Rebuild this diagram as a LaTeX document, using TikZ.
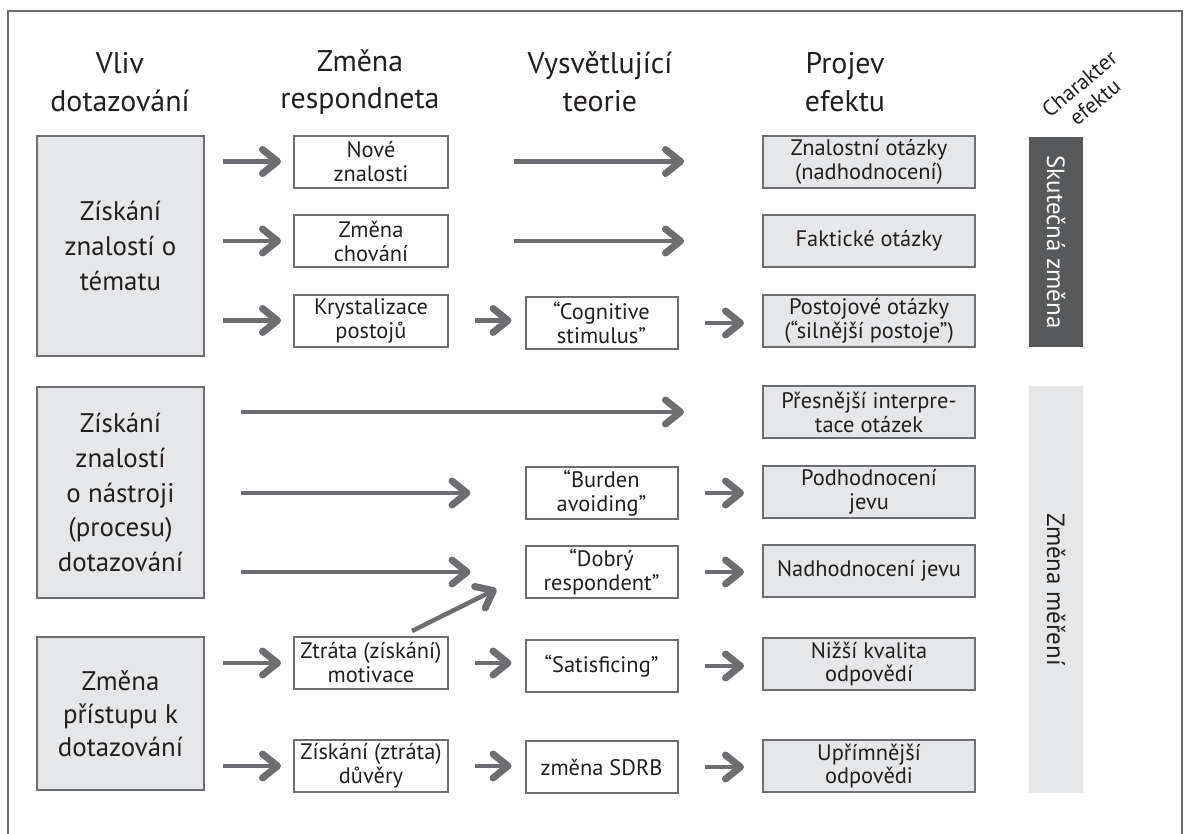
\documentclass[tikz,border=0pt]{standalone}
\usepackage{fontspec}
\setmainfont{PT Sans}
\usetikzlibrary{arrows.meta,calc}
\definecolor{linegray}{HTML}{6D6E71}
\definecolor{fillgray}{HTML}{E6E7E8}
\definecolor{darkbar}{HTML}{58595B}
\definecolor{ink}{HTML}{231F20}
\begin{document}
\begin{tikzpicture}[x=1bp,y=-1bp,
  hdr/.style={font=\fontsize{30}{38}\selectfont, align=center, text=ink},
  srcbox/.style={draw=linegray, fill=fillgray, line width=2bp, minimum width=167bp, align=center, text=ink, font=\fontsize{27}{35}\selectfont, inner sep=0pt},
  wbox/.style={draw=linegray, fill=white, line width=2bp, minimum width=154bp, minimum height=52bp, align=center, text=ink, font=\fontsize{22.5}{24}\selectfont, inner sep=0pt},
  tbox/.style={wbox, minimum width=152bp},
  gbox/.style={wbox, fill=fillgray, minimum width=212bp},
  conn/.style={draw=linegray, line width=4.5bp, -{Straight Barb[length=15bp,width=24bp,line width=7bp,round]}},
  barsty/.style={rotate=-90, minimum height=54bp, inner sep=0pt, font=\fontsize{25}{28}\selectfont}
]
\useasboundingbox (0,0) rectangle (1189,834);
\draw[draw=linegray, line width=1.5bp] (8,11) rectangle (1182,860);

% headers
\node[hdr] (h1) at (120,82) {Vliv\\dotazování};
\node[hdr] (h2) at (360,82) {Změna\\respondneta};
\node[hdr] (h3) at (600,82) {Vysvětlující\\teorie};
\node[hdr] (h4) at (845,82) {Projev\\efektu};
\node[font=\fontsize{22}{24}\selectfont, align=center, text=ink, rotate=40, inner sep=0pt] (h5) at (1087,93) {Charakter\\efektu};

% left boxes
\node[srcbox, minimum height=220bp] (A) at (120.5,246) {Získání\\znalostí o\\tématu};
\node[srcbox, minimum height=211bp] (B) at (120.5,492.5) {Získání\\znalostí\\o nástroji\\(procesu)\\dotazování};
\node[srcbox, minimum height=153bp, font=\fontsize{27}{33}\selectfont] (C) at (120.5,713.5) {Změna\\přístupu k\\dotazování};

% column 2
\node[wbox] (nz) at (371,161.5) {Nové\\znalosti};
\node[wbox] (zch) at (371,241) {Změna\\chování};
\node[wbox] (kp) at (371,320.5) {Krystalizace\\postojů};
\node[wbox] (zm) at (371,663) {Ztráta (získání)\\motivace};
\node[wbox] (zd) at (371,766) {Získání (ztráta)\\důvěry};

% column 3
\node[tbox] (cs) at (601.5,323) {“Cognitive\\stimulus”};
\node[tbox] (ba) at (601.5,493) {“Burden\\avoiding”};
\node[tbox] (dr) at (601.5,572) {“Dobrý\\respondent”};
\node[tbox] (sa) at (601.5,666) {“Satisficing”};
\node[tbox] (sd) at (601.5,767) {změna SDRB};

% column 4
\node[gbox] (zo) at (869,161.5) {Znalostní otázky\\(nadhodnocení)};
\node[gbox] (fo) at (869,241) {Faktické otázky};
\node[gbox] (po) at (869,320.5) {Postojové otázky\\(“silnější postoje”)};
\node[gbox] (pi) at (869,412) {Přesnější interpre-\\tace otázek};
\node[gbox] (pj) at (869,492) {Podhodnocení\\jevu};
\node[gbox] (nj) at (869,571) {Nadhodnocení jevu};
\node[gbox] (nk) at (869,664) {Nižší kvalita\\odpovědí};
\node[gbox] (uo) at (869,766) {Upřímnější\\odpovědi};

% bars
\node[barsty, fill=darkbar, text=white, minimum width=210bp] (sk) at (1056,242) {Skutečná změna};
\node[barsty, fill=fillgray, text=ink, minimum width=407bp] (zme) at (1056,589.5) {Změna měření};

% arrows left -> col2
\draw[conn, shorten <=18bp, shorten >=12bp] (A.east |- nz.west) -- (nz.west);
\draw[conn, shorten <=18bp, shorten >=12bp] (A.east |- zch.west) -- (zch.west);
\draw[conn, shorten <=18bp, shorten >=12bp] (A.east |- kp.west) -- (kp.west);
\draw[conn, shorten <=18bp, shorten >=12bp] (C.east |- zm.west) -- (zm.west);
\draw[conn, shorten <=18bp, shorten >=12bp] (C.east |- zd.west) -- (zd.west);

% col2 -> col4 long
\draw[conn, shorten <=65bp, shorten >=78bp] (nz.east) -- (zo.west);
\draw[conn, shorten <=65bp, shorten >=78bp] (zch.east) -- (fo.west);

% col2 -> col3
\draw[conn, shorten <=26bp, shorten >=13bp] (kp.east) -- (kp.east -| cs.west);
\draw[conn, shorten <=26bp, shorten >=13bp] (zm.east) -- (zm.east -| sa.west);
\draw[conn, shorten <=26bp, shorten >=13bp] (zd.east) -- (zd.east -| sd.west);

% col3 -> col4
\draw[conn, shorten <=26bp, shorten >=18bp] (cs.east) -- (cs.east -| po.west);
\draw[conn, shorten <=26bp, shorten >=18bp] (ba.east) -- (ba.east -| pj.west);
\draw[conn, shorten <=26bp, shorten >=18bp] (dr.east) -- (dr.east -| nj.west);
\draw[conn, shorten <=26bp, shorten >=18bp] (sa.east) -- (sa.east -| nk.west);
\draw[conn, shorten <=26bp, shorten >=18bp] (sd.east) -- (sd.east -| uo.west);

% B -> ...
\draw[conn, shorten <=36bp, shorten >=78bp] (B.east |- pi.west) -- (pi.west);
\draw[conn, shorten <=36bp, shorten >=54bp] (B.east |- ba.west) -- (ba.west);
\draw[conn, shorten <=36bp, shorten >=54bp] (B.east |- dr.west) -- (dr.west);

% diagonal
\draw[conn] ($(zm.north)+(41,-5)$) -- ($(dr.south west)+(-28,-10)$);
\end{tikzpicture}
\end{document}
